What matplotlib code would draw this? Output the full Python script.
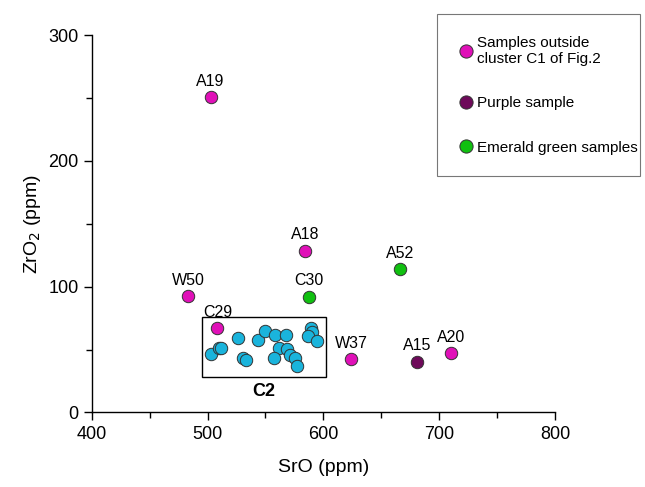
import matplotlib.pyplot as plt
from matplotlib.lines import Line2D
from matplotlib.ticker import MultipleLocator

plt.rcParams['font.family'] = ['Liberation Sans', 'DejaVu Sans']

# 樣品數據 (SrO, ZrO2)
magenta_names = ['A19', 'A18', 'W50', 'C29', 'W37', 'A20']
magenta_sro = [502.6, 583.9, 483.3, 508.6, 624.1, 710.3]
magenta_zro2 = [250.6, 128.6, 92.5, 66.8, 42.2, 46.9]

purple_names = ['A15']
purple_sro = [680.7]
purple_zro2 = [40.3]

green_names = ['A52', 'C30']
green_sro = [665.8, 587.6]
green_zro2 = [113.8, 92.0]

# C2 群集
c2_sro = [503.4, 509.7, 512.0, 526.4, 530.2, 533.6, 543.6, 550.0, 558.6, 567.5,
          561.5, 568.6, 557.4, 571.0, 575.3, 577.6, 589.0, 589.7, 586.7, 594.0]
c2_zro2 = [46.1, 51.4, 50.9, 58.9, 43.4, 41.4, 57.5, 64.9, 61.5, 61.5,
           51.4, 50.1, 43.0, 45.6, 43.4, 36.8, 66.8, 63.6, 60.9, 56.7]
c2_box = (495.4, 28.4, 602.0, 75.6)  # x0, y0, x1, y1

legend_labels = ['Samples outside\ncluster C1 of Fig.2', 'Purple sample',
                 'Emerald green samples']

c_mag = '#e010b8'
c_pur = '#6e0a5a'
c_grn = '#10c010'
c_cyn = '#1ab4dc'
edge = '#333333'

fig = plt.figure(figsize=(6.45, 4.87), dpi=100)
ax = fig.add_axes([0.142, 0.153, 0.719, 0.775])

ms = 80
ax.scatter(c2_sro, c2_zro2, s=ms, c=c_cyn, edgecolors=edge, linewidths=0.7, zorder=3)
ax.scatter(magenta_sro, magenta_zro2, s=ms, c=c_mag, edgecolors=edge, linewidths=0.7, zorder=3)
ax.scatter(purple_sro, purple_zro2, s=ms, c=c_pur, edgecolors=edge, linewidths=0.7, zorder=3)
ax.scatter(green_sro, green_zro2, s=ms, c=c_grn, edgecolors=edge, linewidths=0.7, zorder=3)

# 標籤
for names, xs, ys in [(magenta_names, magenta_sro, magenta_zro2),
                      (purple_names, purple_sro, purple_zro2),
                      (green_names, green_sro, green_zro2)]:
    for n, x, y in zip(names, xs, ys):
        ax.annotate(n, (x, y), xytext=(0, 6), textcoords='offset points',
                    ha='center', va='bottom', fontsize=11.5)

# C2 方框
x0, y0, x1, y1 = c2_box
ax.add_patch(plt.Rectangle((x0, y0), x1 - x0, y1 - y0, fill=False,
                           edgecolor='black', linewidth=1.0, zorder=2))
ax.text((x0 + x1) / 2, y0 - 5, 'C2', ha='center', va='top',
        fontsize=13, fontweight='bold')

ax.set_xlim(400, 800)
ax.set_ylim(0, 300)
ax.xaxis.set_major_locator(MultipleLocator(100))
ax.xaxis.set_minor_locator(MultipleLocator(50))
ax.yaxis.set_major_locator(MultipleLocator(100))
ax.yaxis.set_minor_locator(MultipleLocator(50))
ax.tick_params(which='major', direction='out', length=6, width=1, labelsize=13)
ax.tick_params(which='minor', direction='out', length=4, width=1)
for s in ['top', 'right']:
    ax.spines[s].set_visible(False)
for s in ['left', 'bottom']:
    ax.spines[s].set_linewidth(1)

ax.set_xlabel('SrO (ppm)', fontsize=14, labelpad=12)
ax.set_ylabel('ZrO$_2$ (ppm)', fontsize=14, labelpad=4)

handles = [Line2D([], [], marker='o', linestyle='none', markersize=9.5,
                  markerfacecolor=c, markeredgecolor=edge, markeredgewidth=0.7)
           for c in [c_mag, c_pur, c_grn]]
leg = fig.legend(handles, legend_labels, loc='upper left',
                 bbox_to_anchor=(0.678, 0.971, 0.314, 0.0), mode='expand',
                 fontsize=11, frameon=True, fancybox=False, labelspacing=2.0,
                 handletextpad=0.2, handlelength=1.0, borderpad=1.4,
                 borderaxespad=0)
leg.get_frame().set_edgecolor('#555555')
leg.get_frame().set_linewidth(0.8)

fig.savefig('out.png', dpi=100)
